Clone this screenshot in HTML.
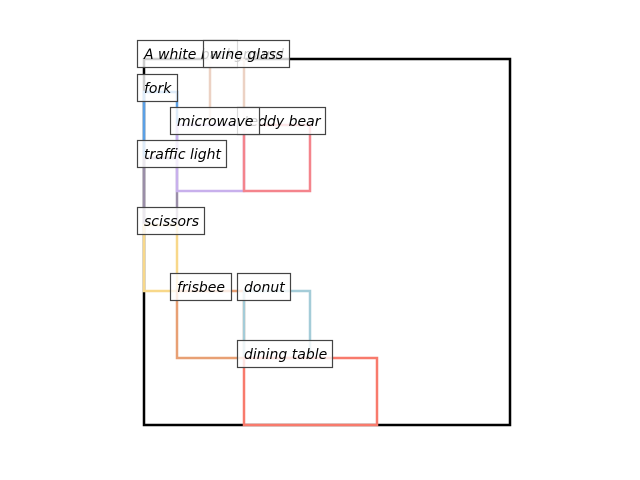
<!DOCTYPE html>
<html><head><meta charset="utf-8"><style>body{margin:0;background:#fff}</style></head><body>
<svg width="640" height="480" xmlns="http://www.w3.org/2000/svg" style="display:block">
<g fill="none" stroke-width="2.5">
<rect x="144" y="59" width="366" height="366" stroke="#000"/>
<rect x="210" y="59" width="34" height="66" stroke="#ecd2c4"/>
<rect x="144" y="92" width="33" height="66" stroke="#5aa0e6"/>
<rect x="144" y="158" width="33" height="67" stroke="#9a8ea8"/>
<rect x="144" y="225" width="33" height="66" stroke="#f8d88a"/>
<rect x="177" y="125" width="67" height="66" stroke="#c8b0ec"/>
<rect x="244" y="125" width="66" height="66" stroke="#f4848c"/>
<rect x="177" y="291" width="67" height="67" stroke="#e8a074"/>
<rect x="244" y="291" width="66" height="67" stroke="#a4ccd8"/>
<rect x="244" y="358" width="133" height="67" stroke="#f87a6c"/>
</g>
<g font-family="DejaVu Sans, sans-serif" font-style="italic" font-size="14" fill="#000">
<rect x="137.5" y="40.5" width="100" height="27" fill="rgba(255,255,255,0.8)" stroke="#444" stroke-width="1.2"/>
<text x="144" y="59">A white background</text>
<rect x="203.5" y="40.5" width="86" height="27" fill="rgba(255,255,255,0.8)" stroke="#444" stroke-width="1.2"/>
<text x="210" y="59">wine glass</text>
<rect x="137.5" y="74.5" width="40" height="27" fill="rgba(255,255,255,0.8)" stroke="#444" stroke-width="1.2"/>
<text x="144" y="93">fork</text>
<rect x="237.5" y="107.5" width="88" height="27" fill="rgba(255,255,255,0.8)" stroke="#444" stroke-width="1.2"/>
<text x="244" y="126">teddy bear</text>
<rect x="170.5" y="107.5" width="89" height="27" fill="rgba(255,255,255,0.8)" stroke="#444" stroke-width="1.2"/>
<text x="177" y="126">microwave</text>
<g fill="rgba(255,255,255,0.8)" stroke="#444" stroke-width="1.2">
<rect x="137.5" y="140.5" width="89" height="27"/>
<rect x="137.5" y="207.5" width="67" height="27"/>
<rect x="170.5" y="273.5" width="61" height="27"/>
<rect x="237.5" y="273.5" width="53" height="27"/>
<rect x="237.5" y="340.5" width="95" height="27"/>
</g>
<text x="144" y="159">traffic light</text>
<text x="144" y="226">scissors</text>
<text x="177" y="292">frisbee</text>
<text x="244" y="292">donut</text>
<text x="244" y="359">dining table</text>
</g>
</svg>
</body></html>
